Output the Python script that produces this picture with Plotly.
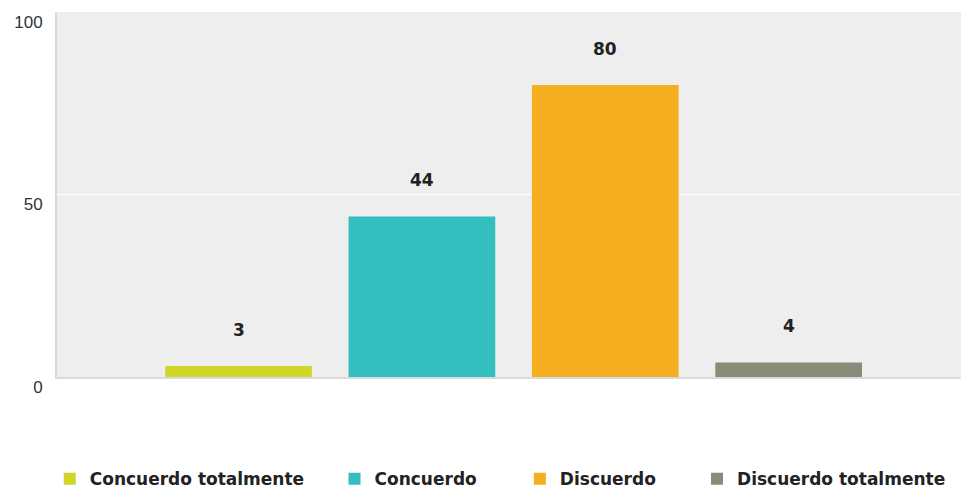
import plotly.graph_objects as go

categories = ["Concuerdo totalmente", "Concuerdo", "Discuerdo", "Discuerdo totalmente"]
values = [3, 44, 80, 4]
colors = ["#d0d628", "#33bec0", "#f6ae21", "#8a8b78"]
y_ticks = [0, 50, 100]

fig = go.Figure()
legend_ids = ["legend", "legend2", "legend3", "legend4"]
for cat, val, col, lid in zip(categories, values, colors, legend_ids):
    fig.add_trace(go.Bar(x=[cat], y=[val], name=cat, marker=dict(color=col, line=dict(width=0)),
                         width=0.8, legend=lid, hoverinfo="x+y"))
    fig.add_annotation(x=cat, y=val, text=f"<b>{val}</b>", showarrow=False, yanchor="bottom",
                       yshift=24, font=dict(family="DejaVu Sans", size=17, color="#222222"))

leg_x = [-0.008, 0.307, 0.512, 0.708]
leg_common = dict(orientation="h", yref="container", y=0.022, yanchor="middle", xanchor="left",
                  font=dict(family="DejaVu Sans", size=17, color="#222222", weight="bold"),
                  bgcolor="rgba(0,0,0,0)")
layout_legends = {}
for lid, lx in zip(legend_ids, leg_x):
    layout_legends[lid] = dict(x=lx, **leg_common)

fig.update_layout(
    width=961, height=490,
    margin=dict(l=57, r=0, t=12, b=113),
    paper_bgcolor="white", plot_bgcolor="#eeeeee",
    barmode="overlay",
    showlegend=True,
    **layout_legends,
    xaxis=dict(type="category", categoryorder="array", categoryarray=categories,
               range=[-0.99, 3.94], showticklabels=False, showgrid=False,
               showline=True, linecolor="#dadada", linewidth=2, ticks="", zeroline=False),
    yaxis=dict(range=[0, 100], tickvals=y_ticks, showgrid=True, gridcolor="white", gridwidth=1,
               zeroline=False, showline=True, linecolor="#dadada", linewidth=2,
               tickfont=dict(family="Liberation Sans", size=17, color="#333333"),
               ticklabelshift=10, ticklabelstandoff=9),
)

fig.write_html("out.html")
